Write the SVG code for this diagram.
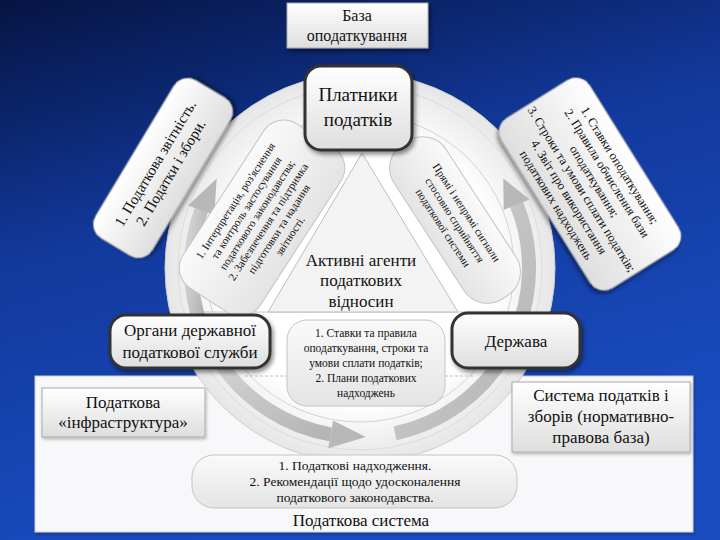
<svg xmlns="http://www.w3.org/2000/svg" width="720" height="540" viewBox="0 0 720 540" font-family="'Liberation Serif', 'DejaVu Serif', serif">
<defs>
<linearGradient id="bg" x1="0" y1="0" x2="0.35" y2="1">
<stop offset="0" stop-color="#061443"/>
<stop offset="0.45" stop-color="#123a9e"/>
<stop offset="1" stop-color="#1a4cc0"/>
</linearGradient>
<linearGradient id="box" x1="0" y1="0" x2="0" y2="1">
<stop offset="0" stop-color="#ffffff"/>
<stop offset="1" stop-color="#dedede"/>
</linearGradient>
<linearGradient id="soft" x1="0" y1="0" x2="0" y2="1">
<stop offset="0" stop-color="#fafafa"/>
<stop offset="1" stop-color="#e4e4e4"/>
</linearGradient>
<radialGradient id="disc" cx="0.5" cy="0.5" r="0.5">
<stop offset="0.7" stop-color="#ffffff"/>
<stop offset="1" stop-color="#e6e6e6"/>
</radialGradient>
<linearGradient id="arr" x1="0" y1="0" x2="1" y2="1">
<stop offset="0" stop-color="#d2d2d2"/>
<stop offset="1" stop-color="#b4b4b4"/>
</linearGradient>
<filter id="sh" x="-20%" y="-20%" width="140%" height="150%">
<feDropShadow dx="2" dy="3" stdDeviation="2" flood-color="#000" flood-opacity="0.45"/>
</filter>
<filter id="shl" x="-20%" y="-20%" width="140%" height="150%">
<feDropShadow dx="1" dy="2" stdDeviation="1.5" flood-color="#000" flood-opacity="0.25"/>
</filter>
</defs>
<style>
text{font-family:"Liberation Serif","DejaVu Serif",serif;fill:#111;text-anchor:middle}
.node{fill:url(#box);stroke:#333;stroke-width:3}
.plain{fill:url(#box);stroke:#aaa;stroke-width:1}
.inner{fill:url(#soft);stroke:#c4c4c4;stroke-width:1}
.band{fill:none;stroke:url(#arr);stroke-width:14}
.head{fill:#b8b8b8}
.t17{font-size:17px}
</style>
<rect width="720" height="540" fill="url(#bg)"/>

<g id="system">
<rect x="35" y="376" width="658" height="156" fill="#f8f8fa" stroke="#c9cbd6" stroke-width="1" filter="url(#shl)"/>
</g>

<g id="cycle">
<circle cx="360" cy="268" r="195" fill="url(#disc)" stroke="#cfcfcf" stroke-width="1"/>
<circle cx="360" cy="268" r="182" fill="none" stroke="#dcdcdc" stroke-width="1"/>
<circle cx="360" cy="268" r="154" fill="none" stroke="#d4d4d4" stroke-width="1"/>
<line x1="190" y1="312" x2="530" y2="312" stroke="#c8c8c8" stroke-width="1"/>
<line x1="245" y1="376" x2="475" y2="376" stroke="#c0c0c0" stroke-width="1" stroke-dasharray="3 2"/>
</g>

<g id="connectors">
<path class="band" d="M201.2 325.8 A169 169 0 0 1 201.2 210.2"/>
<polygon class="head" points="214.3,215 188,205.4 216.7,178.4"/>
<path class="band" d="M395.1 433.3 A169 169 0 0 0 516.7 204.7"/>
<polygon class="head" points="503.7,209.9 529.7,199.4 503.3,178.4"/>
<path class="band" d="M221.6 364.9 A169 169 0 0 0 330.7 434.4"/>
<polygon class="head" points="333.1,420.6 328.2,448.2 365.9,436.9"/>
</g>

<g id="triangle">
<polygon points="362,153 268,312 458,312" fill="#f3f3f3" stroke="#bdbdbd" stroke-width="1"/>
<text class="t17" x="361" y="266">Активні агенти</text>
<text class="t17" x="361" y="286">податкових</text>
<text class="t17" x="361" y="307">відносин</text>
</g>

<g id="inner-left" transform="translate(262,218) rotate(-57)">
<rect x="-98" y="-46" width="196" height="92" rx="24" class="inner"/>
<text font-size="11" y="-28">1. Інтерпретація, роз'яснення</text>
<text font-size="11" y="-15">та контроль застосування</text>
<text font-size="11" y="-2">податкового законодавства;</text>
<text font-size="11" y="11">2. Забезпечення та підтримка</text>
<text font-size="11" y="24">підготовки та надання</text>
<text font-size="11" y="37">звітності.</text>
</g>

<g id="inner-right" transform="translate(455,220) rotate(57)">
<rect x="-92" y="-31" width="184" height="62" rx="28" class="inner"/>
<text font-size="11" y="-10">Прямі і непрямі сигнали</text>
<text font-size="11" y="4">стосовно сприйняття</text>
<text font-size="11" y="18">податкової системи</text>
</g>

<g id="center-box">
<rect x="287" y="320" width="158" height="86" rx="20" class="inner"/>
<text font-size="11.5" x="366" y="337">1. Ставки та правила</text>
<text font-size="11.5" x="366" y="352">оподаткування, строки та</text>
<text font-size="11.5" x="366" y="367">умови сплати податків;</text>
<text font-size="11.5" x="366" y="382">2. Плани податкових</text>
<text font-size="11.5" x="366" y="397">надходжень</text>
</g>

<g id="baza">
<rect x="287" y="3" width="141" height="45" class="plain" filter="url(#sh)"/>
<text font-size="16" x="357" y="21">База</text>
<text font-size="16" x="357" y="41">оподаткування</text>
</g>

<g id="platnyky">
<rect x="305" y="66" width="107" height="84" rx="16" class="node" filter="url(#sh)"/>
<text font-size="19" x="358" y="101">Платники</text>
<text font-size="19" x="358" y="126">податків</text>
</g>

<g id="organy">
<rect x="110" y="315" width="160" height="53" rx="16" class="node" filter="url(#sh)"/>
<text class="t17" x="190" y="336">Органи державної</text>
<text class="t17" x="190" y="358">податкової служби</text>
</g>

<g id="derzhava">
<rect x="452" y="313" width="128" height="55" rx="16" class="node" filter="url(#sh)"/>
<text class="t17" x="516" y="347">Держава</text>
</g>

<g id="left-outer" transform="translate(163,168) rotate(-59)">
<rect x="-92" y="-33" width="184" height="66" rx="16" class="plain" filter="url(#sh)"/>
<text font-size="15" y="-4">1. Податкова звітність.</text>
<text font-size="15" y="14">2. Податки і збори.</text>
</g>

<g id="right-outer" transform="translate(590,184) rotate(58)">
<rect x="-100" y="-52" width="200" height="104" rx="16" class="plain" filter="url(#sh)"/>
<text font-size="12.5" y="-31">1. Ставки оподаткування;</text>
<text font-size="12.5" y="-16">2. Правила обчислення бази</text>
<text font-size="12.5" y="-1">оподаткування;</text>
<text font-size="12.5" y="14">3. Строки та умови сплати податків;</text>
<text font-size="12.5" y="29">4. Звіт про використання</text>
<text font-size="12.5" y="44">податкових надходжень</text>
</g>

<g id="infra">
<rect x="42" y="388" width="163" height="49" class="plain" filter="url(#shl)"/>
<text class="t17" x="123" y="408">Податкова</text>
<text class="t17" x="123" y="428">«інфраструктура»</text>
</g>

<g id="normy">
<rect x="512" y="382" width="178" height="70" class="plain" filter="url(#shl)"/>
<text class="t17" x="601" y="401">Система податків і</text>
<text class="t17" x="601" y="422">зборів (нормативно-</text>
<text class="t17" x="601" y="443">правова база)</text>
</g>

<g id="results">
<rect x="192" y="455" width="325" height="53" rx="22" class="inner"/>
<text font-size="13.5" x="355" y="470">1. Податкові надходження.</text>
<text font-size="13.5" x="355" y="486">2. Рекомендації щодо удосконалення</text>
<text font-size="13.5" x="355" y="502">податкового законодавства.</text>
</g>

<text class="t17" x="361" y="526">Податкова система</text>
</svg>
